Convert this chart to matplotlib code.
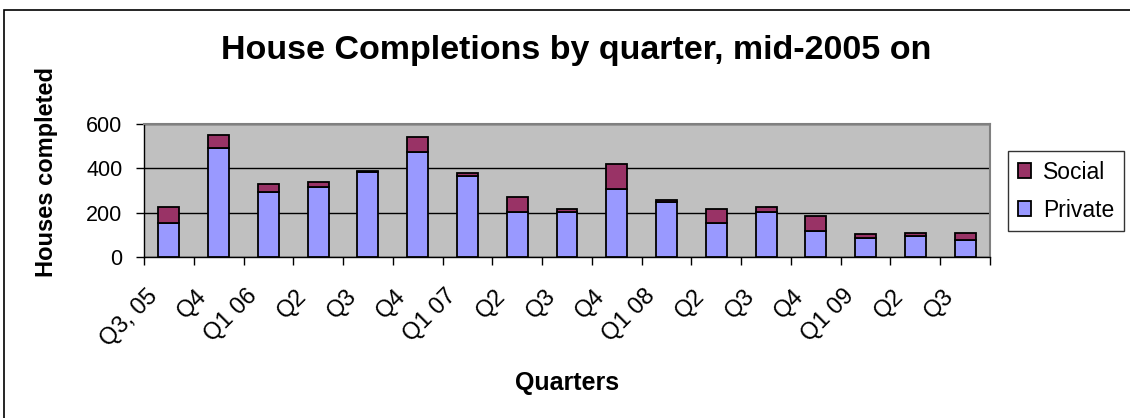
import matplotlib
matplotlib.use("Agg")
import matplotlib.pyplot as plt
from matplotlib.patches import Rectangle
import matplotlib.transforms as mtransforms
import numpy as np

plt.rcParams['font.family'] = ['Liberation Sans', 'DejaVu Sans']

quarters = ["Q3, 05", "Q4", "Q1 06", "Q2", "Q3", "Q4", "Q1 07", "Q2", "Q3",
            "Q4", "Q1 08", "Q2", "Q3", "Q4", "Q1 09", "Q2", "Q3"]
private = [152, 490, 293, 314, 382, 475, 365, 203, 203, 307, 247, 152, 203, 117, 86, 95, 78]
social = [75, 60, 36, 23, 6, 68, 15, 68, 15, 111, 9, 66, 24, 67, 16, 15, 32]
yticks = [0, 200, 400, 600]

W, H = 1130, 418
fig = plt.figure(figsize=(W / 100, H / 100), dpi=100)
fig.patch.set_facecolor('white')

# outer chart frame
fig.patches.append(Rectangle((4 / W, -0.1), 1.2, (H - 10) / H + 0.1, transform=fig.transFigure,
                             fill=False, edgecolor='black', linewidth=1.2))

ax = fig.add_axes([144 / W, (H - 257) / H, 846 / W, 133 / H])
ax.set_facecolor('#C0C0C0')

x = np.arange(len(quarters))
bw = 0.42
ax.bar(x, private, width=bw, color='#9999FF', edgecolor='black', linewidth=1.3,
       label='Private', zorder=3)
ax.bar(x, social, width=bw, bottom=private, color='#993366', edgecolor='black',
       linewidth=1.3, label='Social', zorder=3)

ax.set_xlim(-0.5, len(quarters) - 0.5)
ax.set_ylim(0, 600)
ax.set_yticks(yticks)
ax.set_yticklabels([str(v) for v in yticks], fontsize=15.5)
ax.yaxis.grid(True, color='black', linewidth=1.0, zorder=1)
ax.set_axisbelow(True)

ax.set_xticks(np.arange(-0.5, len(quarters), 1.0))
ax.set_xticklabels([])
ax.set_xticks(x, minor=True)
ax.set_xticklabels(quarters, minor=True, rotation=45, ha='right', va='center',
                   rotation_mode='anchor', fontsize=17)
ax.tick_params(axis='x', which='minor', length=0, pad=26)
ax.tick_params(axis='x', which='major', length=5.5, width=1, direction='out', color='black')
ax.tick_params(axis='y', length=5.5, width=1, direction='out', color='black', pad=10)
offset = mtransforms.ScaledTranslation(-15 / 100, 0, fig.dpi_scale_trans)
for lab in ax.xaxis.get_minorticklabels():
    lab.set_transform(lab.get_transform() + offset)

for s in ['top', 'right']:
    ax.spines[s].set_color('#808080')
    ax.spines[s].set_linewidth(1.5)
for s in ['left', 'bottom']:
    ax.spines[s].set_color('black')
    ax.spines[s].set_linewidth(1.0)

fig.text(576 / W, 1 - 50 / H, "House Completions by quarter, mid-2005 on",
         ha='center', va='center', fontsize=24.5, fontweight='bold')
fig.text(567 / W, 1 - 383 / H, "Quarters", ha='center', va='center',
         fontsize=18, fontweight='bold')
fig.text(47 / W, 1 - 172 / H, "Houses completed", ha='center', va='center',
         rotation=90, fontsize=17, fontweight='bold')

handles, labels = ax.get_legend_handles_labels()
leg = fig.legend(handles[::-1], labels[::-1], loc='upper left',
                 bbox_to_anchor=(1008 / W, 1 - 151 / H), fontsize=16.5,
                 frameon=True, fancybox=False, edgecolor='black',
                 handlelength=0.6, handleheight=0.6, handletextpad=0.5,
                 borderpad=0.42, labelspacing=0.65, borderaxespad=0)
leg.get_frame().set_linewidth(1.0)

fig.savefig("out.png", dpi=100)
